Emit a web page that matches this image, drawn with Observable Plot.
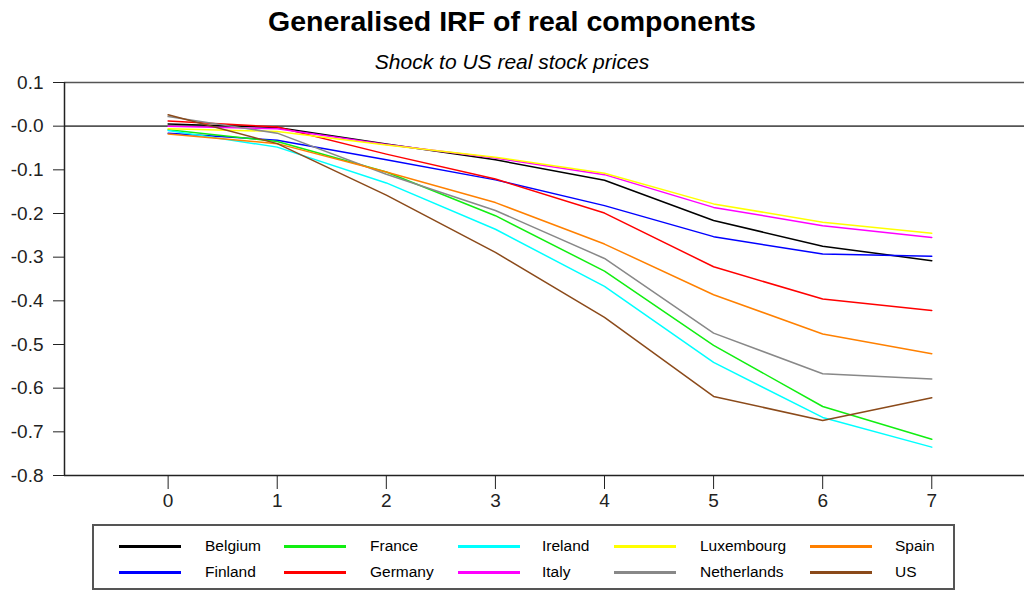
<!DOCTYPE html>
<html>
<head>
<meta charset="utf-8">
<script src="https://cdn.jsdelivr.net/npm/d3@7"></script>
<script src="https://cdn.jsdelivr.net/npm/@observablehq/plot@0.6"></script>
<style>
  html, body { margin: 0; padding: 0; background: #fff; }
  body { width: 1024px; height: 591px; overflow: hidden; font-family: "Liberation Sans", Arial, sans-serif; color: #000; }
  #header { position: relative; height: 74px; }
  #title { position: absolute; top: 4px; left: 0; width: 1024px; text-align: center; font-weight: bold; font-size: 28.5px; line-height: 34px; }
  #subtitle { position: absolute; top: 50px; left: 0; width: 1024px; text-align: center; font-style: italic; font-size: 21px; line-height: 24px; }
  #chart { height: 450px; }
  #legend { position: relative; margin-left: 92px; width: 859px; height: 62px; border: 2px solid #555; box-sizing: content-box; }
  .lg-line { position: absolute; width: 62px; height: 3px; }
  .lg-text { position: absolute; font-size: 15.5px; line-height: 18px; white-space: nowrap; }
</style>
</head>
<body>
<div id="header">
  <div id="title">Generalised IRF of real components</div>
  <div id="subtitle">Shock to US real stock prices</div>
</div>
<div id="chart"></div>
<div id="legend"></div>
<script>
// ---- data ----
const horizon = [0, 1, 2, 3, 4, 5, 6, 7];
const countries = ["Belgium", "Finland", "France", "Germany", "Ireland", "Italy", "Luxembourg", "Netherlands", "Spain", "US"];
const colors = ["#000000", "#0000ff", "#11ee11", "#ff0000", "#00ffff", "#ff00ff", "#ffff00", "#888888", "#ff8000", "#8b4a1a"];
const belgium     = [0.005, -0.003, -0.041, -0.077, -0.124, -0.216, -0.275, -0.308];
const finland     = [-0.016, -0.032, -0.077, -0.123, -0.182, -0.253, -0.293, -0.298];
const france      = [-0.008, -0.035, -0.105, -0.205, -0.332, -0.502, -0.642, -0.717];
const germany     = [0.012, -0.002, -0.064, -0.121, -0.199, -0.322, -0.396, -0.422];
const ireland     = [-0.010, -0.048, -0.130, -0.236, -0.367, -0.541, -0.667, -0.735];
const italy       = [0.000, -0.006, -0.042, -0.073, -0.111, -0.186, -0.228, -0.255];
const luxembourg  = [-0.006, -0.012, -0.043, -0.071, -0.108, -0.178, -0.220, -0.245];
const netherlands = [0.022, -0.016, -0.110, -0.193, -0.303, -0.474, -0.567, -0.579];
const spain       = [-0.018, -0.040, -0.105, -0.175, -0.270, -0.386, -0.476, -0.521];
const us          = [0.026, -0.040, -0.158, -0.289, -0.438, -0.619, -0.674, -0.622];
const yTicks = [0.1, 0.0, -0.1, -0.2, -0.3, -0.4, -0.5, -0.6, -0.7, -0.8];
const yTickLabels = ["0.1", "-0.0", "-0.1", "-0.2", "-0.3", "-0.4", "-0.5", "-0.6", "-0.7", "-0.8"];
const xTickLabels = ["0", "1", "2", "3", "4", "5", "6", "7"];
// legend layout: column order
const legendColumns = [["Belgium", "Finland"], ["France", "Germany"], ["Ireland", "Italy"], ["Luxembourg", "Netherlands"], ["Spain", "US"]];

const seriesValues = [belgium, finland, france, germany, ireland, italy, luxembourg, netherlands, spain, us];
const rows = countries.flatMap((c, i) => seriesValues[i].map((v, j) => ({country: c, h: horizon[j], v})));

const xMin = -0.95, xMax = 7.85;
const chart = Plot.plot({
  width: 1024,
  height: 450,
  marginTop: 8,
  marginBottom: 49,
  marginLeft: 64,
  marginRight: 0,
  x: {domain: [xMin, xMax], axis: null},
  y: {domain: [-0.8, 0.1], axis: null},
  color: {domain: countries, range: colors},
  style: {fontFamily: '"Liberation Sans", Arial, sans-serif', color: "#222", background: "transparent", overflow: "visible"},
  marks: [
    Plot.ruleY([0.1, 0], {stroke: "#555", strokeWidth: 1.6}),
    Plot.ruleY([-0.8], {stroke: "#222", strokeWidth: 1.5}),
    Plot.ruleX([xMin], {y1: -0.8, y2: 0.1, stroke: "#222", strokeWidth: 1.5}),
    Plot.axisY({ticks: yTicks, label: null, tickSize: 11, tickPadding: 10, fontSize: 19, tickFormat: (d) => yTickLabels[yTicks.findIndex(t => Math.abs(t - d) < 1e-9)]}),
    Plot.axisX({ticks: horizon, label: null, tickSize: 14, tickPadding: 4, fontSize: 19, tickFormat: (d) => xTickLabels[d]}),
    Plot.line(rows, {x: "h", y: "v", z: "country", stroke: "country", strokeWidth: 1.5})
  ]
});
document.getElementById("chart").appendChild(chart);

// legend
const legend = document.getElementById("legend");
const lineX = [25, 190, 364, 520, 716];
const textX = [111, 276, 448, 606, 801];
const rowY = [20, 46];
legendColumns.forEach((col, ci) => {
  col.forEach((name, ri) => {
    const l = document.createElement("div");
    l.className = "lg-line";
    l.style.left = lineX[ci] + "px";
    l.style.top = (rowY[ri] - 1.5) + "px";
    l.style.background = colors[countries.indexOf(name)];
    legend.appendChild(l);
    const t = document.createElement("div");
    t.className = "lg-text";
    t.style.left = textX[ci] + "px";
    t.style.top = (rowY[ri] - 9) + "px";
    t.textContent = name;
    legend.appendChild(t);
  });
});
</script>
</body>
</html>
